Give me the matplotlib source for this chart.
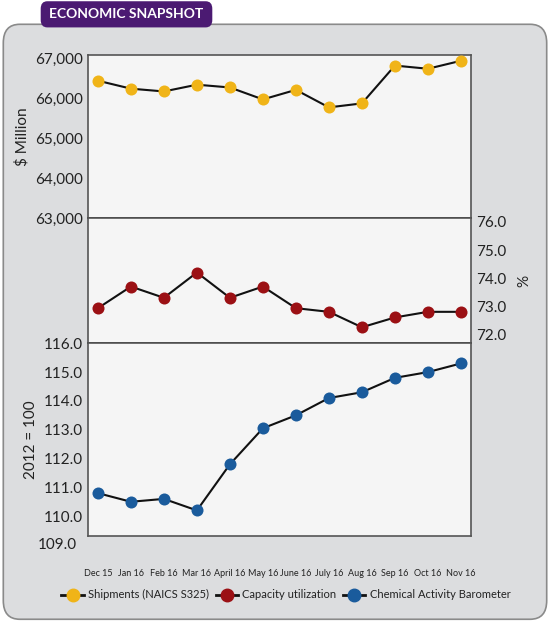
import matplotlib
matplotlib.use("Agg")
import matplotlib.pyplot as plt
from matplotlib.patches import FancyBboxPatch
from matplotlib.lines import Line2D
import matplotlib.transforms as mtransforms

months = ["Dec 15", "Jan 16", "Feb 16", "Mar 16", "April 16", "May 16", "June 16",
          "July 16", "Aug 16", "Sep 16", "Oct 16", "Nov 16"]
shipments = [66450, 66250, 66180, 66350, 66280, 65980, 66220, 65780, 65880, 66830, 66750, 66950]
capacity = [72.93, 73.7, 73.3, 74.2, 73.3, 73.7, 72.93, 72.8, 72.25, 72.6, 72.8, 72.8]
cab = [110.8, 110.5, 110.6, 110.2, 111.8, 113.05, 113.5, 114.1, 114.3, 114.8, 115.0, 115.3]

YELLOW = "#f0b418"
RED = "#9b1014"
BLUE = "#1a5b9c"
TXT = "#222222"

plt.rcParams["font.family"] = ["Lato", "DejaVu Sans"]

fig = plt.figure(figsize=(5.5, 6.23), dpi=100, facecolor="white")

bg = FancyBboxPatch((0.006, 0.006), 0.988, 0.955, boxstyle="round,pad=0,rounding_size=0.03",
                    transform=fig.transFigure, facecolor="#dcdddf", edgecolor="#8a8a8a",
                    linewidth=1.2, zorder=-2)
fig.patches.append(bg)
tab = FancyBboxPatch((0.08, 0.962), 0.30, 0.03, boxstyle="round,pad=0.006,rounding_size=0.012",
                     transform=fig.transFigure, facecolor="#4b1a72", edgecolor="none", zorder=-1)
fig.patches.append(tab)
fig.text(0.23, 0.977, "ECONOMIC SNAPSHOT", color="white", fontsize=10, fontweight="bold",
         ha="center", va="center")

left, right = 0.16, 0.856
ax1 = fig.add_axes([left, 0.650, right - left, 0.912 - 0.650])
ax2 = fig.add_axes([left, 0.449, right - left, 0.650 - 0.449])
ax3 = fig.add_axes([left, 0.140, right - left, 0.449 - 0.140])

x = list(range(len(months)))
for ax, vals, col in [(ax1, shipments, YELLOW), (ax2, capacity, RED), (ax3, cab, BLUE)]:
    ax.set_zorder(2)
    ax.set_facecolor("#f5f5f5")
    ax.plot(x, vals, color="#111111", linewidth=1.5, zorder=2)
    ax.scatter(x, vals, s=75, color=col, zorder=3, linewidths=0)
    ax.set_xlim(-0.3, len(x) - 0.7)
    ax.set_xticks([])
    for s in ax.spines.values():
        s.set_color("#555555")
        s.set_linewidth(1.2)
    ax.tick_params(length=0, labelsize=11, colors=TXT)

ax1.set_ylim(63000, 67100)
ax1.set_yticks([63000, 64000, 65000, 66000, 67000])
ax1.set_yticklabels([f"{v:,}" for v in [63000, 64000, 65000, 66000, 67000]])
ax1.set_ylabel("$ Million", fontsize=11, color=TXT)
ax1.spines["bottom"].set_color("#111111")

ax2.set_ylim(71.68, 76.14)
ax2.yaxis.tick_right()
ax2.yaxis.set_label_position("right")
ax2.set_yticks([72, 73, 74, 75, 76])
ax2.set_yticklabels([f"{v:.1f}" for v in [72, 73, 74, 75, 76]])
ax2.set_ylabel("%", fontsize=11, color=TXT, rotation=90, labelpad=8)
ax2.spines["bottom"].set_color("#111111")

ax3.set_ylim(109.32, 116)
ax3.set_yticks([110, 111, 112, 113, 114, 115, 116])
ax3.set_yticklabels([f"{v:.1f}" for v in [110, 111, 112, 113, 114, 115, 116]])
trans = mtransforms.blended_transform_factory(ax3.transAxes, ax3.transData)
ax3.text(-0.03, 109.0, "109.0", transform=trans, ha="right", va="center", fontsize=11,
         color=TXT, clip_on=False)
ax3.set_ylabel("2012 = 100", fontsize=11, color=TXT)
ax3.set_xticks(x)
ax3.set_xticklabels(months, fontsize=6.5, color=TXT)
ax3.tick_params(axis="x", pad=24)

handles = [Line2D([0], [0], color="#111111", linewidth=2, marker="o", markersize=9,
                  markerfacecolor=c, markeredgecolor=c) for c in (YELLOW, RED, BLUE)]
fig.legend(handles, ["Shipments (NAICS S325)", "Capacity utilization", "Chemical Activity Barometer"],
           loc="center", bbox_to_anchor=(0.52, 0.045), ncol=3, frameon=False, fontsize=8,
           handlelength=2.0, handletextpad=0.4, columnspacing=0.6, labelcolor=TXT)

fig.savefig("out.png", dpi=100, facecolor="white")
